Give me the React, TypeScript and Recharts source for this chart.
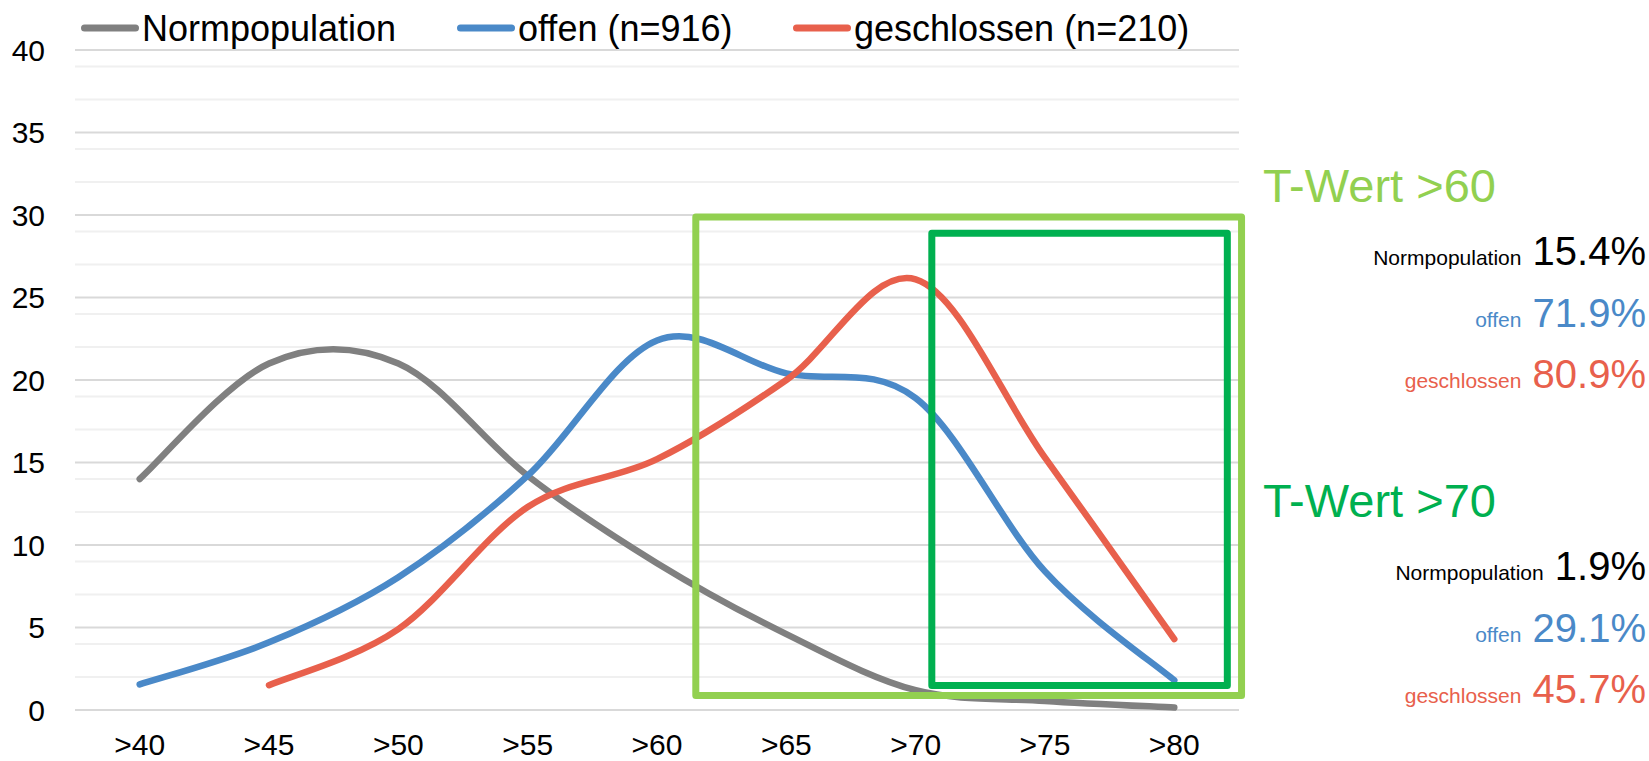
import React from "react";
import { LineChart, Line, XAxis, YAxis, CartesianGrid, ReferenceArea } from "recharts";

// T-score bands and share (%) of each group per band
const categories = [">40", ">45", ">50", ">55", ">60", ">65", ">70", ">75", ">80"];
const normpopulation = [14.0, 21.0, 21.0, 14.2, 8.9, 4.6, 1.2, 0.55, 0.15];
const offen = [1.55, 4.1, 8.05, 14.2, 22.4, 20.4, 18.9, 8.4, 1.8];
const geschlossen = [null, 1.5, 4.9, 12.3, 15.2, 20.0, 26.1, 15.3, 4.3];

const legendLabels = ["Normpopulation", "offen (n=916)", "geschlossen (n=210)"];
const groupNames = ["Normpopulation", "offen", "geschlossen"];

// cumulative shares above the cut-offs
const shareAbove60 = [15.4, 71.9, 80.9];
const shareAbove70 = [1.9, 29.1, 45.7];

const yTicks = [0, 5, 10, 15, 20, 25, 30, 35, 40];
const yMinor = [1, 2, 3, 4, 6, 7, 8, 9, 11, 12, 13, 14, 16, 17, 18, 19, 21, 22, 23, 24, 26, 27, 28, 29, 31, 32, 33, 34, 36, 37, 38, 39];

const COLORS = ["#808080", "#4A89C8", "#E8604C"];
const LIGHT_GREEN = "#92D050";
const DARK_GREEN = "#00B050";
const FONT = "'Liberation Sans', Arial, sans-serif";

const W = 1649;
const H = 761;
const BAND_PAD = 64.7;
const LEGEND_X = [81, 457, 793];

const data = categories.map((category, i) => ({
  category,
  norm: normpopulation[i],
  offen: offen[i],
  geschlossen: geschlossen[i],
}));

// Excel-style smoothed line: Catmull-Rom segments as cubic beziers
function smoothCurve(context: any) {
  let pts: number[][] = [];
  return {
    areaStart() {},
    areaEnd() {},
    lineStart() {
      pts = [];
    },
    lineEnd() {
      if (!pts.length) return;
      context.moveTo(pts[0][0], pts[0][1]);
      for (let i = 0; i < pts.length - 1; i++) {
        const p0 = pts[i - 1] || pts[i];
        const p1 = pts[i];
        const p2 = pts[i + 1];
        const p3 = pts[i + 2] || p2;
        context.bezierCurveTo(
          p1[0] + (p2[0] - p0[0]) / 6,
          p1[1] + (p2[1] - p0[1]) / 6,
          p2[0] - (p3[0] - p1[0]) / 6,
          p2[1] - (p3[1] - p1[1]) / 6,
          p2[0],
          p2[1]
        );
      }
    },
    point(x: number, y: number) {
      pts.push([+x, +y]);
    },
  };
}

function CategoryTick({ x, y, payload }: any) {
  return (
    <text x={x} y={y + 45} textAnchor="middle" fill="#000" fontSize={30} fontFamily={FONT}>
      {payload.value}
    </text>
  );
}

function ShareBlock({ title, color, shares, top }: { title: string; color: string; shares: number[]; top: number }) {
  return (
    <g>
      <text x={1263} y={top} fill={color} fontSize={47} fontFamily={FONT}>
        {title}
      </text>
      {shares.map((v, i) => (
        <text key={i} x={1646} y={top + 63 + i * 61.5} textAnchor="end" fill={i === 0 ? "#000" : COLORS[i]} fontFamily={FONT}>
          <tspan fontSize={21}>{groupNames[i]}</tspan>
          <tspan fontSize={40}>{" " + v.toFixed(1) + "%"}</tspan>
        </text>
      ))}
    </g>
  );
}

export default function App() {
  return (
    <div style={{ position: "absolute", left: 0, top: 0, width: W, height: H, background: "#fff", fontFamily: FONT }}>
      <LineChart width={W} height={H} data={data} margin={{ top: 50, right: 410, bottom: 0, left: 0 }}>
        <CartesianGrid vertical={false} horizontalValues={yMinor} stroke="#F0F0F0" strokeWidth={2} />
        <CartesianGrid vertical={false} horizontalValues={yTicks} stroke="#D9D9D9" strokeWidth={2} />
        <XAxis
          xAxisId="cat"
          dataKey="category"
          scale="point"
          padding={{ left: BAND_PAD, right: BAND_PAD }}
          axisLine={false}
          tickLine={false}
          tickSize={0}
          tickMargin={0}
          height={51}
          interval={0}
          tick={<CategoryTick />}
        />
        {/* band index axis (0 = first category) for the highlight frames */}
        <XAxis
          xAxisId="box"
          type="number"
          domain={[0, 8]}
          ticks={[0, 8]}
          padding={{ left: BAND_PAD, right: BAND_PAD }}
          allowDataOverflow
          height={0}
          hide
        />
        <YAxis
          domain={[0, 40]}
          ticks={yTicks}
          width={75}
          axisLine={false}
          tickLine={false}
          tickSize={0}
          tickMargin={30}
          tick={{ fill: "#000", fontSize: 30, fontFamily: FONT }}
        />
        <Line xAxisId="cat" dataKey="norm" type={smoothCurve as any} stroke={COLORS[0]} strokeWidth={6.5} strokeLinecap="round" dot={false} activeDot={false} isAnimationActive={false} />
        <Line xAxisId="cat" dataKey="offen" type={smoothCurve as any} stroke={COLORS[1]} strokeWidth={6.5} strokeLinecap="round" dot={false} activeDot={false} isAnimationActive={false} />
        <Line xAxisId="cat" dataKey="geschlossen" type={smoothCurve as any} stroke={COLORS[2]} strokeWidth={6.5} strokeLinecap="round" dot={false} activeDot={false} isAnimationActive={false} />
        <ReferenceArea xAxisId="box" x1={4.3} x2={8.52} y1={0.88} y2={29.88} fill="none" stroke={LIGHT_GREEN} strokeWidth={7} strokeLinejoin="round" ifOverflow="visible" zIndex={1000} />
        <ReferenceArea xAxisId="box" x1={6.125} x2={8.41} y1={1.49} y2={28.9} fill="none" stroke={DARK_GREEN} strokeWidth={7} strokeLinejoin="round" ifOverflow="visible" zIndex={1000} />
      </LineChart>

      <svg width={W} height={H} style={{ position: "absolute", left: 0, top: 0, pointerEvents: "none" }}>
        {legendLabels.map((label, i) => (
          <g key={label}>
            <line x1={LEGEND_X[i] + 3.5} x2={LEGEND_X[i] + 54.5} y1={28} y2={28} stroke={COLORS[i]} strokeWidth={7} strokeLinecap="round" />
            <text x={LEGEND_X[i] + 61} y={40.5} fontSize={36} fill="#000" fontFamily={FONT}>
              {label}
            </text>
          </g>
        ))}
        <ShareBlock title="T-Wert >60" color={LIGHT_GREEN} shares={shareAbove60} top={202} />
        <ShareBlock title="T-Wert >70" color={DARK_GREEN} shares={shareAbove70} top={517} />
      </svg>
    </div>
  );
}
